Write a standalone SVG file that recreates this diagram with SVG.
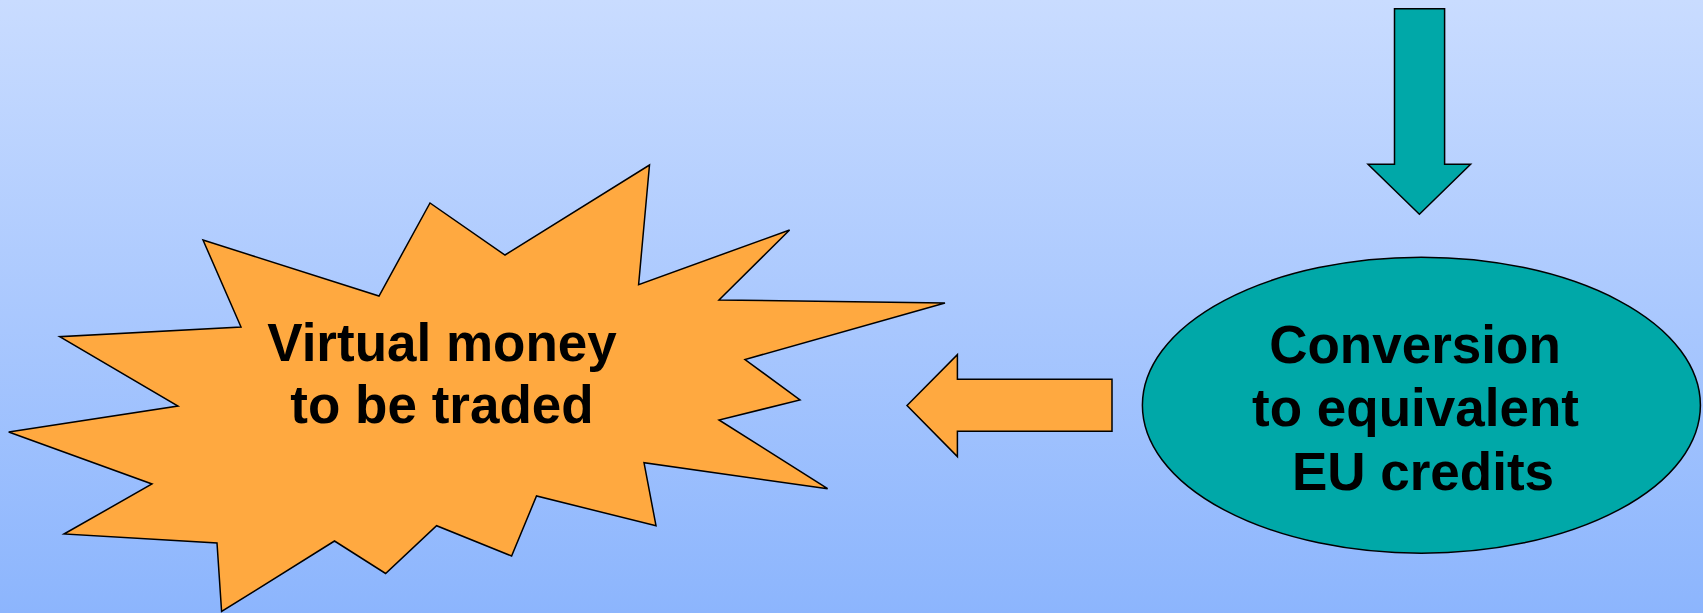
<svg xmlns="http://www.w3.org/2000/svg" width="1703" height="613" viewBox="0 0 1703 613">
<defs>
<linearGradient id="bg" x1="0" y1="0" x2="0" y2="1">
<stop offset="0" stop-color="#C9DCFF"/>
<stop offset="1" stop-color="#8CB5FD"/>
</linearGradient>
</defs>
<style>
.shape{stroke:#000;stroke-width:1.5;stroke-linejoin:miter}
.orange{fill:#FFA940}
.teal{fill:#00A8A8}
.lbl{font-family:"Liberation Sans",Arial,sans-serif;font-weight:bold;font-size:53px;fill:#000;text-anchor:middle}
</style>
<rect width="1703" height="613" fill="url(#bg)"/>
<g id="starburst">
<polygon class="shape orange" points="203,240 379,296 430,203 505,255 649.5,165 638.6,284.6 789.6,230 719,300 945,303 745,359.5 800,400 719,420 827.6,488.7 644,462.7 656,525.7 536.5,496 511.6,556 436.6,525.7 385.6,573.5 334.5,541 221.6,611.5 217,543 64,534 152,484 8.7,432 178,406 59.7,336.7 241,327"/>
<text class="lbl" x="442" y="361">Virtual money</text>
<text class="lbl" x="442" y="423">to be traded</text>
</g>
<g id="conversion">
<ellipse class="shape teal" cx="1421.4" cy="405.2" rx="279" ry="148"/>
<text class="lbl" x="1415" y="363">Conversion</text>
<text class="lbl" x="1415.5" y="426">to equivalent</text>
<text class="lbl" x="1423" y="490">EU credits</text>
</g>
<g id="connectors">
<polygon class="shape teal" points="1394.5,8.7 1444.6,8.7 1444.6,164.2 1470.6,164.2 1419.4,214.2 1368,164.2 1394.5,164.2"/>
<polygon class="shape orange" points="907,405.5 957.4,354.6 957.4,379.2 1112,379.2 1112,431.2 957.4,431.2 957.4,456.6"/>
</g>
</svg>
